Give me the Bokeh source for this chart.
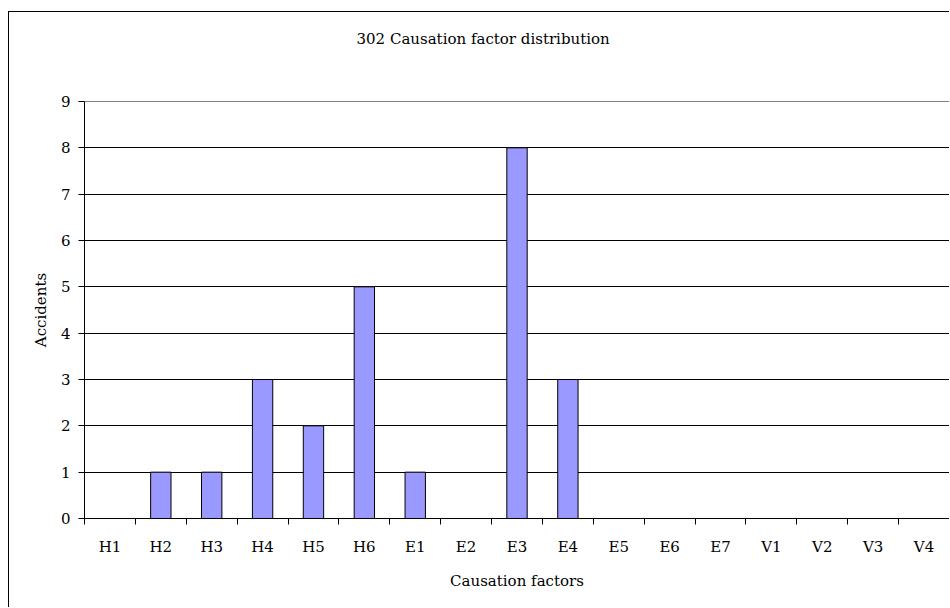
from bokeh.plotting import figure
from bokeh.models import (ColumnDataSource, FixedTicker, Range1d, Title, LinearAxis)
from bokeh.embed import file_html
from bokeh.resources import INLINE

categories = ["H1", "H2", "H3", "H4", "H5", "H6", "E1", "E2", "E3", "E4",
              "E5", "E6", "E7", "V1", "V2", "V3", "V4"]
accidents = [0, 1, 1, 3, 2, 5, 1, 0, 8, 3, 0, 0, 0, 0, 0, 0, 0]
y_ticks = [0, 1, 2, 3, 4, 5, 6, 7, 8, 9]
title_text = "302 Causation factor distribution"

FONT = "DejaVu Serif"
FS = "15px"

centers = [i + 0.5 for i in range(len(categories))]
bounds = [i for i in range(len(categories) + 1)]

src = ColumnDataSource(dict(x=centers, top=accidents, cat=categories))

p = figure(width=941, height=596, output_backend="svg", toolbar_location=None,
           x_range=Range1d(0, len(categories)), y_range=Range1d(0, max(y_ticks)),
           min_border_left=75, min_border_right=1, min_border_top=89,
           min_border_bottom=90, title=None)

# outer chart box: left and top edges of the chart area
p.styles = {"margin-left": "8px", "margin-top": "11px",
            "border-left": "1px solid black", "border-top": "1px solid black"}

p.vbar(x="x", top="top", bottom=0, width=0.4, source=src,
       fill_color="#9999FF", line_color="black", line_width=1)

xa = p.below[0]
ya = p.left[0]

# invisible spacer between the frame and the title
spacer = LinearAxis(ticker=FixedTicker(ticks=[]), axis_line_color=None,
                    major_tick_out=0, major_tick_in=0, minor_tick_out=0,
                    minor_tick_in=0, major_label_standoff=0,
                    major_tick_line_color=None, minor_tick_line_color=None,
                    axis_label=" ", axis_label_text_font_size="1px",
                    axis_label_standoff=50)
p.add_layout(spacer, "above")

t = Title(text=title_text, align="left",
          text_font=FONT, text_font_size=FS, text_font_style="normal",
          text_color="black", standoff=0, offset=272)
p.add_layout(t, "above")

# x axis
xa.ticker = FixedTicker(ticks=centers, minor_ticks=bounds)
xa.major_label_overrides = {c: lab for c, lab in zip(centers, categories)}
xa.major_tick_line_color = None
xa.major_tick_out = 0
xa.major_tick_in = 0
xa.minor_tick_out = 6
xa.minor_tick_in = 0
xa.minor_tick_line_color = "black"
xa.axis_line_color = "black"
xa.major_label_text_font = FONT
xa.major_label_text_font_size = FS
xa.major_label_text_color = "black"
xa.major_label_standoff = 13
xa.axis_label = "Causation factors"
xa.axis_label_text_font = FONT
xa.axis_label_text_font_size = FS
xa.axis_label_text_font_style = "normal"
xa.axis_label_text_color = "black"
xa.axis_label_standoff = 13

# y axis
ya.ticker = FixedTicker(ticks=y_ticks)
ya.major_tick_out = 6
ya.major_tick_in = 0
ya.minor_tick_line_color = None
ya.axis_line_color = "black"
ya.major_tick_line_color = "black"
ya.major_label_text_font = FONT
ya.major_label_text_font_size = FS
ya.major_label_text_color = "black"
ya.major_label_standoff = 8
ya.axis_label = "Accidents"
ya.axis_label_text_font = FONT
ya.axis_label_text_font_size = FS
ya.axis_label_text_font_style = "normal"
ya.axis_label_text_color = "black"
ya.axis_label_standoff = 8

p.xgrid.visible = False
p.ygrid.ticker = FixedTicker(ticks=y_ticks[1:-1])
p.ygrid.grid_line_color = "black"
p.ygrid.grid_line_width = 1

p.outline_line_color = "#808080"
p.outline_line_width = 1
p.background_fill_color = "white"
p.border_fill_color = "white"

open("out.html", "w").write(file_html(p, INLINE))
